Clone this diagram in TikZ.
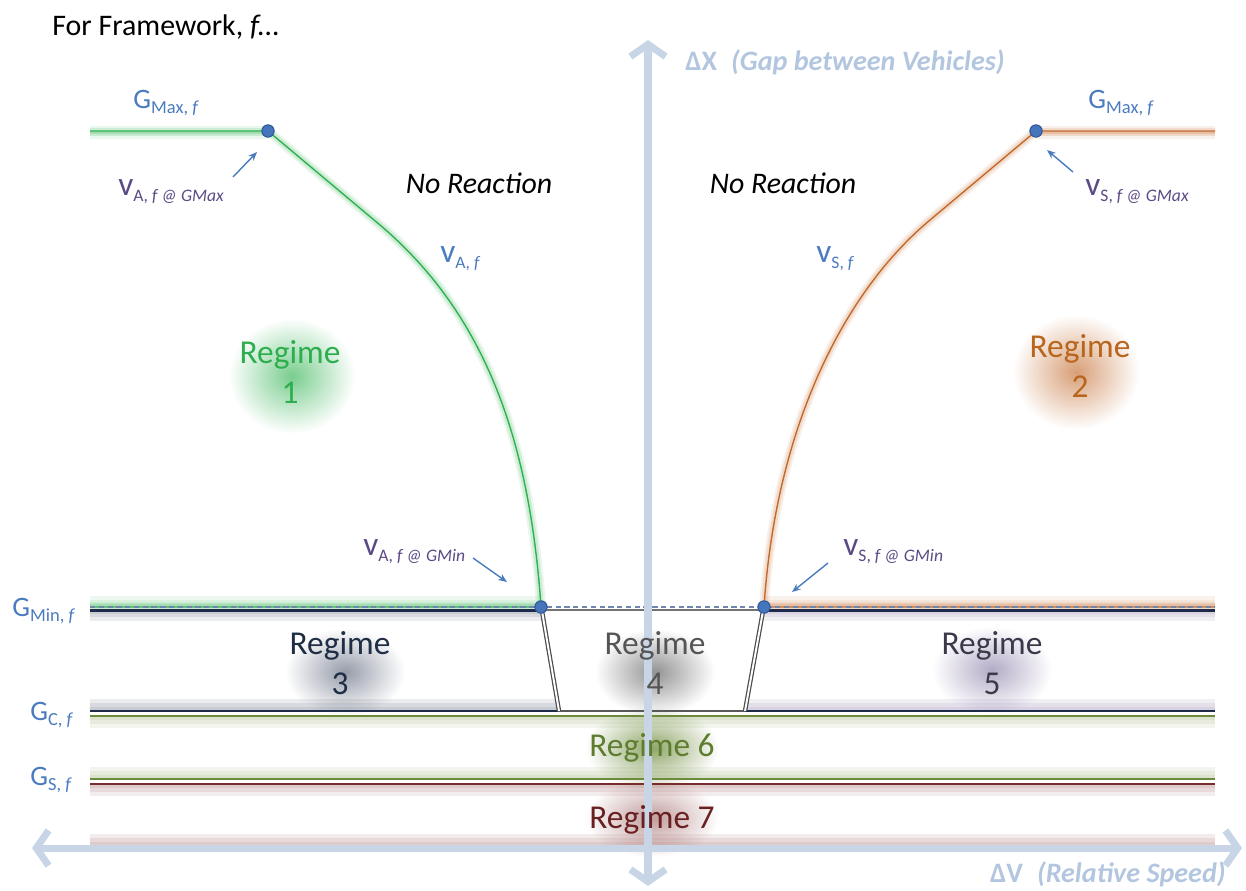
\documentclass[tikz,border=0pt]{standalone}
\usepackage{fontspec}
\setmainfont{Carlito}
\usetikzlibrary{arrows.meta,fadings}

\definecolor{axisc}{HTML}{C8D5E6}
\definecolor{axistxt}{HTML}{B3C6DF}
\definecolor{grn}{HTML}{2DB04E}
\definecolor{orng}{HTML}{C2682A}
\definecolor{navy}{HTML}{1E2B48}
\definecolor{olive}{HTML}{6C8A3A}
\definecolor{dred}{HTML}{7A2B2B}
\definecolor{lblue}{HTML}{4A7BBE}
\definecolor{vpurp}{HTML}{5C4A86}
\definecolor{dotc}{HTML}{4576BC}
\definecolor{dotb}{HTML}{2F5597}
\definecolor{dashc}{HTML}{6F86AE}
\definecolor{rthree}{HTML}{1F2D45}
\definecolor{rfour}{HTML}{555555}
\definecolor{rfive}{HTML}{3A3A4A}
\definecolor{rsix}{HTML}{5E7D2E}
\definecolor{rseven}{HTML}{6A2020}
\definecolor{rone}{HTML}{2EAE4E}
\definecolor{rtwo}{HTML}{B8651E}

\tikzfading[name=softglow, inner color=transparent!15, outer color=transparent!100]

% soft round glow behind a label: colour, centre, radii
\newcommand\spotglow[4]{\fill[#1, path fading=softglow] (#2) ellipse ({1.15*#3} and {1.15*#4});}
% soft band beside a line: colour, x from, x to, y of line, y of outer edge
\newcommand\bandglow[5]{\foreach \k in {1,0.65,0.35}{\fill[#1, opacity=0.09] (#2,#4) rectangle (#3,{#4+(#5-#4)*\k});}}

\newcommand\Gsym[1]{{\fontsize{16}{18}\selectfont G}\raisebox{-3.2pt}{\fontsize{10.5}{12}\selectfont #1}}
\newcommand\Vsym[1]{{\fontsize{19}{20}\selectfont v}\raisebox{-3.4pt}{\fontsize{10}{12}\selectfont #1}}

\begin{document}
\begin{tikzpicture}[x=0.02cm,y=-0.02cm,
  axisline/.style={draw=axisc, line width=4pt, line cap=round,
    arrows={Straight Barb[length=7pt,width=20pt,line width=4pt]-Straight Barb[length=7pt,width=20pt,line width=4pt]}},
  axislabel/.style={text=axistxt, font=\fontsize{16}{18}\selectfont\bfseries, inner sep=0pt},
  gline/.style={line width=1.4pt},
  dot/.style={circle, fill=dotc, draw=dotb, line width=0.6pt, minimum size=7pt, inner sep=0pt},
  glab/.style={text=lblue, inner sep=0pt, anchor=west},
  vlab/.style={text=vpurp, inner sep=0pt, anchor=west},
  pointer/.style={draw=lblue, line width=0.8pt, -{Stealth[length=5pt,width=4pt]}},
  regime/.style={font=\fontsize{19}{22}\selectfont, align=center, inner sep=0pt},
  noreact/.style={font=\fontsize{17}{20}\selectfont\itshape, inner sep=0pt},
  trapside/.style={draw=black!70, double=white, double distance=1.1pt, line width=0.7pt}
]
\useasboundingbox (0,0) rectangle (1246,890);

% ---- soft glows behind the regime names
\spotglow{grn!75}{292,376}{55}{50}
\spotglow{orng!75}{1076,372}{55}{50}
\spotglow{navy!55}{345,672}{52}{38}
\spotglow{black!50}{655,672}{52}{38}
\spotglow{vpurp!55}{992,670}{52}{38}
\spotglow{olive!90}{652,748}{58}{36}
\spotglow{dred!55}{652,818}{58}{34}

% ---- soft bands along the boundary lines
\bandglow{grn}{90}{268}{131}{139}
\bandglow{orng}{1036}{1215}{131}{139}
\bandglow{grn}{90}{541}{607}{596}
\bandglow{navy}{90}{541}{610}{621}
\bandglow{orng}{764}{1215}{607}{596}
\bandglow{vpurp}{764}{1215}{610}{621}
\bandglow{navy}{90}{558}{711}{699}
\bandglow{vpurp}{745}{1215}{711}{699}
\bandglow{olive}{90}{1215}{716}{728}
\bandglow{olive}{90}{1215}{779}{767}
\bandglow{dred}{90}{1215}{784}{796}
\bandglow{dred}{90}{1215}{846}{834}

% ---- anchor points of the two reaction curves
\coordinate (amaxL) at (90,131);
\coordinate (smaxR) at (1215,131);
\coordinate (aminL) at (90,607);
\coordinate (sminR) at (1215,607);
\coordinate (abend) at (380,225);
\coordinate (sbend) at (930,220);

% ---- approach curve (green) and separation curve (orange)
\foreach \w/\o in {10/0.10,6/0.15,1.4/1}{
  \draw[grn, line width=\w*0.567pt, opacity=\o, line join=round]
    (amaxL) -- (268,131) -- (abend) .. controls (480,310) and (529,430) .. (541,607) -- (aminL);
  \draw[orng, line width=\w*0.567pt, opacity=\o, line join=round]
    (smaxR) -- (1036,131) -- (sbend) .. controls (845,291) and (776,425) .. (764,607) -- (sminR);
}

% ---- minimum gap line (dashed) and regime boundaries
\draw[dashc, line width=0.75pt, dash pattern=on 3pt off 2pt] (aminL) -- (sminR);
\draw[navy, gline] (90,610.5) -- (541,610.5);
\draw[navy, gline] (764,610.5) -- (1215,610.5);
\draw[black!55, line width=0.6pt] (541,610) -- (764,610);
\draw[navy, gline] (90,711) -- (558,711);
\draw[navy, gline] (745,711) -- (1215,711);
\draw[black!65, line width=1pt] (558,711) -- (745,711);
\draw[trapside] (542,611) -- (559,711);
\draw[trapside] (763,611) -- (745,711);
\draw[olive, gline] (90,716) -- (1215,716);
\draw[olive, gline] (90,779) -- (1215,779);
\draw[dred, gline] (90,784) -- (1215,784);
\draw[dred, gline] (90,846) -- (1215,846);

% ---- axes
\coordinate (ytop) at (648,40);
\coordinate (ybot) at (648,886);
\coordinate (xleft) at (32,848);
\coordinate (xright) at (1242,848);
\draw[axisline] (ybot) -- (ytop);
\draw[axisline] (xleft) -- (xright);
\node[axislabel, anchor=west] (ylab) at (685,62) {ΔX\enspace\itshape (Gap between Vehicles)};
\node[axislabel, anchor=east] (xlab) at (1226,874) {ΔV\enspace\itshape (Relative Speed)};

% ---- curve end points
\node[dot] (pamax) at (268,131) {};
\node[dot] (psmax) at (1036,131) {};
\node[dot] (pamin) at (541,607) {};
\node[dot] (psmin) at (764,607) {};

% ---- title
\node[anchor=west, inner sep=0pt, font=\fontsize{17}{20}\selectfont] (title) at (52,27) {For Framework, \textit{f...}};

% ---- gap labels
\node[glab] (gmaxl) at (133,103) {\Gsym{Max, \textit{f}}};
\node[glab] (gmaxr) at (1088,103) {\Gsym{Max, \textit{f}}};
\node[glab] (gmin) at (12,611) {\Gsym{Min, \textit{f}}};
\node[glab] (gc) at (30,715) {\Gsym{C, \textit{f}}};
\node[glab] (gs) at (30,780) {\Gsym{S, \textit{f}}};

% ---- speed labels
\node[glab] (va) at (440,259) {\Vsym{A, \textit{f}}};
\node[glab] (vs) at (816,259) {\Vsym{S, \textit{f}}};
\node[vlab] (vamax) at (118,192) {\Vsym{A, \textit{f @ GMax}}};
\node[vlab] (vsmax) at (1085,192) {\Vsym{S, \textit{f @ GMax}}};
\node[vlab] (vamin) at (363,552) {\Vsym{A, \textit{f @ GMin}}};
\node[vlab] (vsmin) at (843,552) {\Vsym{S, \textit{f @ GMin}}};

% ---- small pointers to the end points
\coordinate (t1) at (233,177); \coordinate (h1) at (257,152);
\coordinate (t2) at (1073,172); \coordinate (h2) at (1047,150);
\coordinate (t3) at (473,558); \coordinate (h3) at (507,582);
\coordinate (t4) at (828,563); \coordinate (h4) at (792,592);
\draw[pointer] (t1) -- (h1);
\draw[pointer] (t2) -- (h2);
\draw[pointer] (t3) -- (h3);
\draw[pointer] (t4) -- (h4);

% ---- region names
\node[noreact] (nr1) at (479,183) {No Reaction};
\node[noreact] (nr2) at (783,183) {No Reaction};
\node[regime, text=rone] (r1) at (290,372) {Regime\\[1pt]1};
\node[regime, text=rtwo] (r2) at (1080,366) {Regime\\[1pt]2};
\node[regime, text=rthree] (r3) at (340,663) {Regime\\[1pt]3};
\node[regime, text=rfour] (r4) at (655,663) {Regime\\[1pt]4};
\node[regime, text=rfive] (r5) at (992,663) {Regime\\[1pt]5};
\node[regime, text=rsix] (r6) at (652,748) {Regime 6};
\node[regime, text=rseven] (r7) at (652,820) {Regime 7};
\end{tikzpicture}
\end{document}
